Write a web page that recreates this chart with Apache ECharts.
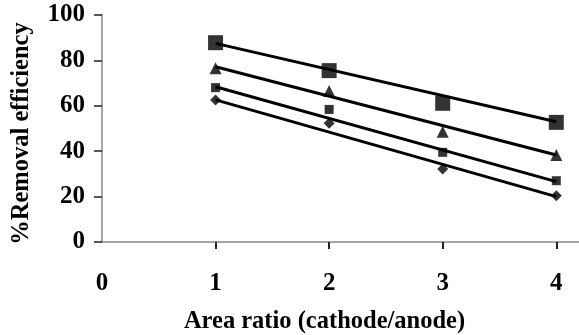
<!DOCTYPE html>
<html>
<head>
<meta charset="utf-8">
<script src="https://cdn.jsdelivr.net/npm/echarts@6/dist/echarts.min.js"></script>
<style>html,body{margin:0;padding:0;background:#fff}#c{width:579px;height:335px}</style>
</head>
<body>
<div id="c"></div>
<script>
const xValues = [1, 2, 3, 4];
const seriesLargeSquare = [87.8, 75.5, 61.1, 52.7];
const seriesTriangle = [76.5, 66.5, 48.6, 38.3];
const seriesSmallSquare = [68.0, 58.4, 39.5, 27.0];
const seriesDiamond = [62.6, 52.3, 32.2, 20.4];
const trendX = [1, 4];
const trendLargeSquare = [87.5, 53.0];
const trendTriangle = [77.2, 38.3];
const trendSmallSquare = [68.4, 26.6];
const trendDiamond = [62.6, 20.0];
const xTickLabels = [0, 1, 2, 3, 4];
const yTickLabels = [0, 20, 40, 60, 80, 100];

const font = 'Liberation Serif';
const pair = (xs, ys) => xs.map((x, i) => [x, ys[i]]);

const markerDefs = [
  {data: seriesLargeSquare, trend: trendLargeSquare, symbol: 'rect', size: 15},
  {data: seriesTriangle, trend: trendTriangle, symbol: 'triangle', size: 12},
  {data: seriesSmallSquare, trend: trendSmallSquare, symbol: 'rect', size: 9},
  {data: seriesDiamond, trend: trendDiamond, symbol: 'diamond', size: 11}
];

const series = [];
markerDefs.forEach(d => {
  series.push({
    type: 'line', data: pair(trendX, d.trend), showSymbol: false, symbol: 'none',
    lineStyle: {color: '#000', width: 3}, silent: true, z: 2, animation: false
  });
  series.push({
    type: 'scatter', data: pair(xValues, d.data), symbol: d.symbol, symbolSize: d.size,
    itemStyle: {color: '#000'}, z: 3, animation: false
  });
});

const chart = echarts.init(document.getElementById('c'));
chart.setOption({
  animation: false,
  grid: {left: 102, top: 15, right: 0, bottom: 93, containLabel: false, outerBoundsMode: 'none'},
  xAxis: {
    type: 'value', min: 0, max: 4.2, interval: 1,
    name: 'Area ratio (cathode/anode)', nameLocation: 'middle', nameGap: 67,
    nameTextStyle: {fontFamily: font, fontWeight: 'bold', fontSize: 24.5, color: '#000', padding: [0, 32, 0, 0]},
    axisLine: {show: true, lineStyle: {color: '#888', width: 1.5}},
    axisTick: {show: true, length: 7, lineStyle: {color: '#222', width: 2}, customValues: [1, 2, 3, 4]},
    axisLabel: {fontFamily: font, fontWeight: 'bold', fontSize: 25, color: '#000', margin: 29, customValues: xTickLabels},
    splitLine: {show: false}
  },
  yAxis: {
    type: 'value', min: 0, max: 100, interval: 20,
    name: '%Removal efficiency', nameLocation: 'middle', nameGap: 68,
    nameTextStyle: {fontFamily: font, fontWeight: 'bold', fontSize: 24.5, color: '#000', padding: [0, 10, 0, 0]},
    axisLine: {show: true, lineStyle: {color: '#888', width: 1.5}},
    axisTick: {show: true, length: 8, lineStyle: {color: '#222', width: 1.5}},
    axisLabel: {fontFamily: font, fontWeight: 'bold', fontSize: 25, color: '#000', margin: 17, customValues: yTickLabels},
    splitLine: {show: false}
  },
  series: series
});
</script>
</body>
</html>
